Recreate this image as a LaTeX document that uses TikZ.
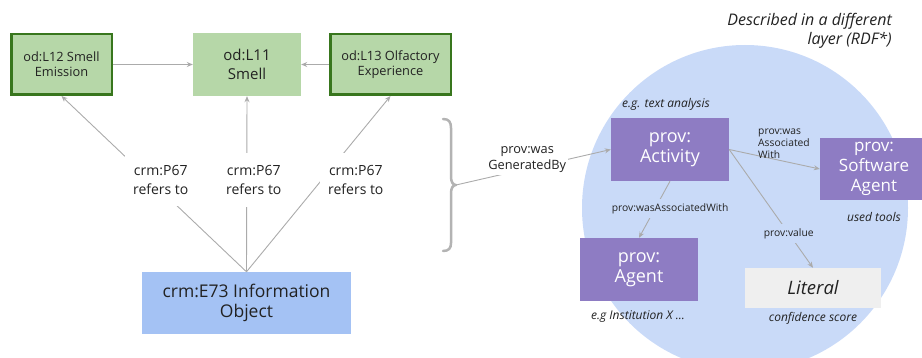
\documentclass[tikz,border=0pt]{standalone}
\usepackage{fontspec}
\setmainfont{Open Sans}
\usetikzlibrary{arrows.meta}
\definecolor{gfill}{HTML}{B6D7A8}
\definecolor{gborder}{HTML}{38761D}
\definecolor{bfill}{HTML}{A4C2F4}
\definecolor{cfill}{HTML}{C9DAF8}
\definecolor{pfill}{HTML}{8E7CC3}
\definecolor{lfill}{HTML}{EFEFEF}
\definecolor{lgray}{HTML}{ABABAB}
\definecolor{bracegray}{HTML}{B3B3B3}
\definecolor{txt}{HTML}{222222}
\begin{document}
\begin{tikzpicture}[x=1pt,y=-1pt,
  box/.style={inner sep=0pt, align=center, text=txt},
  gbox/.style={box, fill=gfill, font=\fontsize{12.8}{15}\selectfont},
  gboxb/.style={gbox, draw=gborder, line width=2.5pt},
  pbox/.style={box, fill=pfill, text=white, font=\fontsize{18}{20}\selectfont},
  conn/.style={draw=lgray, line width=0.9pt, -{Stealth[length=6pt,width=5pt]}},
  plain/.style={draw=lgray, line width=0.9pt},
  crmlbl/.style={fill=white, text=txt, align=center, inner xsep=8pt, inner ysep=12pt, font=\fontsize{14}{19}\selectfont},
  smalllbl/.style={text=txt, align=center, inner sep=1.5pt, font=\fontsize{10.3}{12}\selectfont},
  note/.style={text=txt, align=center, inner sep=0pt, font=\fontsize{12}{14}\itshape},
]
\useasboundingbox (0,0) rectangle (922,358);
\clip (0,0) rectangle (922,358);

% background layer circle
\fill[cfill] (745,208) circle[radius=163pt];

% top row
\node[gboxb, minimum width=100.5pt, minimum height=60.5pt] (l12) at (61.5,64.5) {od:L12 Smell\\Emission};
\node[gbox, minimum width=108pt, minimum height=63pt, font=\fontsize{15}{19}\selectfont] (l11) at (247,64.5) {od:L11\\Smell};
\node[gboxb, minimum width=120.5pt, minimum height=60.5pt] (l13) at (390.5,64.5) {od:L13 Olfactory\\Experience};

% information object
\node[box, fill=bfill, minimum width=209pt, minimum height=62pt, font=\fontsize{17.5}{20}\selectfont] (e73) at (246.5,303) {crm:E73 Information\\Object};

\draw[conn] (l12.east) -- (l11.west);
\draw[conn] (l13.west) -- (l11.east);

\draw[conn] (e73.north) -- (l12.south) node[crmlbl, pos=0.523, xshift=11pt] (p1) {crm:P67\\refers to};
\draw[conn] (e73.north) -- (l11.south) node[crmlbl, pos=0.523, xshift=7pt] (p2) {crm:P67\\refers to};
\draw[conn] (e73.north) -- (l13.south) node[crmlbl, pos=0.523, xshift=34pt] (p3) {crm:P67\\refers to};

% brace
\draw[bracegray, line width=2.5pt, line cap=round, line join=round]
  (443,119) .. controls (449,119) and (451,122) .. (451,128)
  -- (451,177) .. controls (451,182) and (453,185) .. (456,185)
  .. controls (453,185) and (451,188) .. (451,193)
  -- (451,243) .. controls (451,248) and (449,251) .. (443,251);
\coordinate (bt) at (456,185);

% provenance nodes
\node[pbox, minimum width=118pt, minimum height=63pt] (act) at (670,149.5) {prov:\\Activity};
\node[pbox, minimum width=108pt, minimum height=62pt, font=\fontsize{17}{20}\selectfont] (sw) at (874,169) {prov:\\Software\\Agent};
\node[pbox, minimum width=118pt, minimum height=63pt] (ag) at (639,269.5) {prov:\\Agent};
\node[box, fill=lfill, minimum width=136pt, minimum height=40pt, font=\fontsize{18.5}{20}\itshape] (lit) at (813,288) {Literal};

\draw[conn] (bt) -- (act.west) node[fill=white, text=txt, align=center, inner sep=2pt, pos=0.46, yshift=9pt, font=\fontsize{12.8}{16.5}\selectfont] (gen) {prov:was\\GeneratedBy};
\draw[conn] (act.east) -- (sw.west);
\node[smalllbl, align=left, anchor=west, inner sep=0pt] (assoc) at (758,144) {prov:was\\Associated\\With};
\draw[conn] (act.south) -- (ag.north) node[smalllbl, fill=cfill, pos=0.48, xshift=15pt, inner ysep=4pt] (assoc2) {prov:wasAssociatedWith};
\draw[conn] (act.east) -- (lit.north) node[smalllbl, fill=cfill, pos=0.71, inner ysep=4pt] (val) {prov:value};

% notes
\node[note] (n1) at (666,104) {e.g. text analysis};
\node[note] (n2) at (874,217) {used tools};
\node[note] (n3) at (638,317) {e.g Institution X ...};
\node[note] (n4) at (813,318) {confidence score};
\node[note, align=right, anchor=east, font=\fontsize{16}{19}\itshape] (n5) at (892,31) {Described in a different\\layer (RDF*)};
\end{tikzpicture}
\end{document}
